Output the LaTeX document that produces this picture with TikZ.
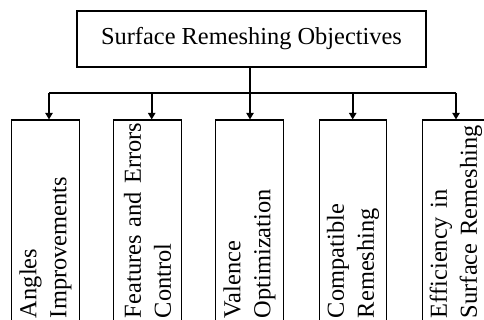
\documentclass[tikz,border=0pt]{standalone}
\usepackage{fontspec}
\setmainfont{Liberation Serif}
\usetikzlibrary{arrows.meta}

\begin{document}
\begin{tikzpicture}[x=0.75pt,y=0.75pt,yscale=-1,xscale=1,
  topbox/.style={draw, line width=0.8pt, minimum width=261.75pt, minimum height=42pt, inner sep=0.75pt, font=\fontsize{18.3}{22}\selectfont},
  subbox/.style={draw, line width=0.8pt, rotate=90, minimum width=150.75pt, minimum height=50.6pt, text width=146.25pt, inner xsep=2.25pt, inner ysep=0.75pt, align=left, font=\fontsize{18.3}{22.5}\selectfont},
  bus/.style={line width=1.5pt},
  busarrow/.style={line width=1.5pt, -{Triangle[length=5pt,width=5.5pt]}}]
\useasboundingbox (0,0) rectangle (484,320);
\clip (0,0) rectangle (484,320);

% Text Node
\node[topbox] (objectives) at (251.5,39) {Surface Remeshing Objectives};
% Text Node
\node[subbox] (angles) at (45.5,220.5) {Angles\\Improvements};
% Text Node
\node[subbox] (features) at (147.5,220.5) {\mbox{Features and Errors}\\Control};
% Text Node
\node[subbox] (valence) at (249.5,220.5) {Valence\\Optimization};
% Text Node
\node[subbox] (compatible) at (353,220.5) {Compatible\\Remeshing};
% Text Node
\node[subbox] (efficiency) at (456,220.5) {Efficiency in\\\mbox{Surface Remeshing}};

% Bus
\coordinate (busmid) at (250,92.7);
\coordinate (busa) at (49,92.7);
\coordinate (busb) at (151.7,92.7);
\coordinate (busd) at (352.7,92.7);
\coordinate (buse) at (456,92.7);
\draw[bus] (objectives.south -| busmid) -- (busmid);
\draw[bus] (busa) -- (buse);

% Straight Lines
\draw[busarrow] (busa) -- (busa |- angles.east);
\draw[busarrow] (busb) -- (busb |- features.east);
\draw[busarrow] (busmid) -- (busmid |- valence.east);
\draw[busarrow] (busd) -- (busd |- compatible.east);
\draw[busarrow] (buse) -- (buse |- efficiency.east);

\end{tikzpicture}
\end{document}
